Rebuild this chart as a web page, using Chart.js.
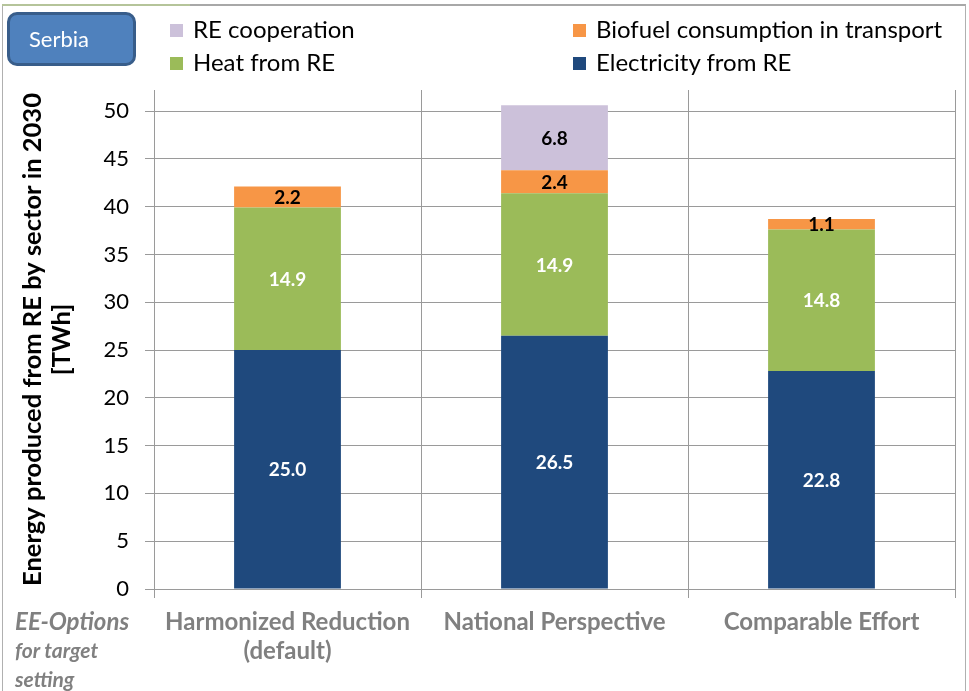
<!DOCTYPE html>
<html><head><meta charset="utf-8">
<script src="https://cdn.jsdelivr.net/npm/chart.js@4/dist/chart.umd.min.js"></script>
<style>
html,body{margin:0;padding:0;background:#fff;}
#wrap{position:relative;width:969px;height:691px;overflow:hidden;font-family:Lato,"Noto Sans",sans-serif;}
#frame{position:absolute;left:2px;top:4px;width:964px;height:700px;border-top:2px solid #a8a8a8;border-left:1px solid #b0b0b0;border-right:1px solid #b0b0b0;box-sizing:border-box;}
#greenbar{position:absolute;left:2px;top:4px;width:188px;height:2px;background:#b5c49a;}
#serbia{position:absolute;left:7px;top:12px;width:129px;height:54px;box-sizing:border-box;background:#4F81BD;border:3px solid #385D8A;border-radius:10px;color:#fff;font-size:22px;line-height:47px;padding-left:19px;}
.leg{position:absolute;font-size:24px;color:#000;white-space:nowrap;line-height:26px;}
.leg span{display:inline-block;width:13px;height:13px;margin-right:10px;vertical-align:1px;}
#ee{position:absolute;left:15px;top:606px;color:#808080;font-style:italic;font-weight:bold;line-height:29px;}
canvas{position:absolute;left:0;top:0;}
</style></head>
<body><div id="wrap">
<canvas id="c" width="969" height="691"></canvas>
<div id="frame"></div><div id="greenbar"></div>
<div id="serbia">Serbia</div>
<div class="leg" style="left:170px;top:16px"><span style="background:#CCC1DA"></span>RE cooperation</div>
<div class="leg" style="left:573px;top:16px"><span style="background:#F79646"></span>Biofuel consumption in transport</div>
<div class="leg" style="left:170px;top:49px"><span style="background:#9BBB59"></span>Heat from RE</div>
<div class="leg" style="left:573px;top:49px"><span style="background:#1F497D"></span>Electricity from RE</div>
<div id="ee"><div style="font-size:24px">EE-Options</div><div style="font-size:21px">for target</div><div style="font-size:21px">setting</div></div>
</div>
<script>
const categories = [["Harmonized Reduction","(default)"],"National Perspective","Comparable Effort"];
const electricity = [25.0, 26.5, 22.8];
const heat = [14.9, 14.9, 14.8];
const biofuel = [2.2, 2.4, 1.1];
const cooperation = [0, 6.8, 0];
const yTicks = [0,5,10,15,20,25,30,35,40,45,50];

const FONT = 'Lato, "Noto Sans", sans-serif';
const labelPlugin = {
  id:'segLabels',
  afterDatasetsDraw(chart){
    const ctx = chart.ctx;
    ctx.save();
    ctx.font = 'bold 19px ' + FONT;
    ctx.textAlign='center'; ctx.textBaseline='middle';
    chart.data.datasets.forEach((ds,i)=>{
      const meta = chart.getDatasetMeta(i);
      meta.data.forEach((el,j)=>{
        const v = ds.data[j];
        if(!v) return;
        ctx.fillStyle = ds.labelColor;
        ctx.fillText(v.toFixed(1), el.x, (el.y+el.base)/2+1);
      });
    });
    ctx.restore();
  }
};

const common = {stack:'s', categoryPercentage:1, barPercentage:0.4, borderWidth:0};
new Chart(document.getElementById('c'), {
  type:'bar',
  data:{
    labels: categories,
    datasets:[
      {label:'Electricity from RE', data:electricity, backgroundColor:'#1F497D', labelColor:'#fff', ...common},
      {label:'Heat from RE', data:heat, backgroundColor:'#9BBB59', labelColor:'#fff', ...common},
      {label:'Biofuel consumption in transport', data:biofuel, backgroundColor:'#F79646', labelColor:'#000', ...common},
      {label:'RE cooperation', data:cooperation, backgroundColor:'#CCC1DA', labelColor:'#000', ...common}
    ]
  },
  plugins:[labelPlugin],
  options:{
    responsive:false, animation:false,
    layout:{padding:{left:8, top:90, right:14, bottom:0}},
    plugins:{legend:{display:false}, tooltip:{enabled:false}},
    scales:{
      x:{
        stacked:true,
        afterFit(s){ s.height = 102; },
        grid:{display:true, offset:true, color:'#9a9a9a', lineWidth:1, tickLength:9, drawOnChartArea:true},
        border:{display:true, color:'#9a9a9a', width:1},
        ticks:{color:'#808080', font:{family:FONT, size:24, weight:'bold'}, padding:10, maxRotation:0, autoSkip:false}
      },
      y:{
        stacked:true, min:0, max:52.2,
        afterBuildTicks(s){ s.ticks = yTicks.map(v=>({value:v})); },
        afterFit(s){ s.width = 146; },
        grid:{color:'#9a9a9a', lineWidth:1, tickLength:9},
        border:{display:true, color:'#9a9a9a', width:1},
        ticks:{color:'#000', font:{family:FONT, size:22}, padding:16},
        title:{display:true, text:['Energy produced from RE by sector in 2030','[TWh]'], color:'#000', font:{family:FONT, size:25.5, weight:'bold', lineHeight:1.15}, padding:{top:10,bottom:0}}
      }
    }
  }
});
</script>
</body></html>
